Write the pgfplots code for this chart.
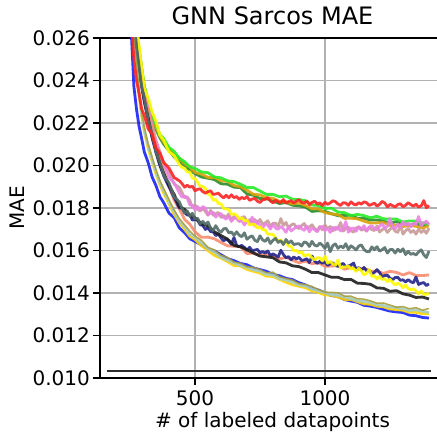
\documentclass[border=0pt]{standalone}
\usepackage{pgfplots}
\pgfplotsset{compat=1.18}
\usepackage{pgfplotstable}
\usepackage{fontspec}
\setmainfont{DejaVu Sans}
\definecolor{cB}{RGB}{25,35,245}
\definecolor{cLB}{RGB}{165,205,195}
\definecolor{cOL}{RGB}{170,160,60}
\definecolor{cGD}{RGB}{255,210,0}
\definecolor{cSG}{RGB}{85,110,105}
\definecolor{cBK}{RGB}{30,30,30}
\definecolor{cNV}{RGB}{35,35,140}
\definecolor{cSM}{RGB}{250,140,110}
\definecolor{cPK}{RGB}{235,130,230}
\definecolor{cTN}{RGB}{200,155,150}
\definecolor{cRD}{RGB}{255,35,35}
\definecolor{cGR}{RGB}{40,235,40}
\definecolor{cOR}{RGB}{220,160,10}
\definecolor{cFG}{RGB}{40,140,40}
\definecolor{cYL}{RGB}{255,250,0}
% smoother series
\pgfplotstableread{
x B LB OL GD BK SM GR OR FG
245 .02900 .03000 .03010 .02990 .03000 .03000 .03000 .02990 .02980
255 .02625 .02800 .02810 .02790 .02850 .02880 .02900 .02890 .02880
265 .02372 .02620 .02630 .02610 .02680 .02720 .02780 .02770 .02760
275 .02265 .02470 .02480 .02460 .02560 .02600 .02650 .02640 .02630
285 .02183 .02340 .02350 .02330 .02455 .02500 .02550 .02540 .02530
295 .02126 .02245 .02250 .02230 .02384 .02420 .02462 .02450 .02440
305 .02064 .02168 .02180 .02160 .02306 .02350 .02376 .02370 .02360
320 .02013 .02093 .02100 .02080 .02224 .02248 .02305 .02290 .02280
335 .01946 .02028 .02040 .02020 .02137 .02172 .02236 .02230 .02220
350 .01905 .01972 .01980 .01960 .02073 .02098 .02196 .02180 .02170
365 .01853 .01918 .01930 .01910 .02006 .02033 .02145 .02140 .02130
380 .01824 .01882 .01890 .01870 .01963 .01968 .02126 .02110 .02100
400 .01776 .01828 .01840 .01820 .01906 .01904 .02085 .02080 .02070
420 .01754 .01783 .01790 .01770 .01864 .01836 .02066 .02050 .02040
440 .01706 .01738 .01750 .01730 .01806 .01795 .02034 .02033 .02020
460 .01684 .01712 .01720 .01700 .01794 .01746 .02018 .02008 .02000
480 .01655 .01678 .01692 .01668 .01766 .01724 .01994 .01993 .01978
500 .01643 .01662 .01668 .01652 .01754 .01688 .01986 .01967 .01962
525 .01626 .01637 .01648 .01623 .01726 .01662 .01970 .01960 .01946
550 .01608 .01609 .01615 .01600 .01716 .01663 .01966 .01944 .01940
575 .01598 .01593 .01602 .01577 .01688 .01655 .01946 .01944 .01934
600 .01580 .01568 .01577 .01564 .01670 .01638 .01942 .01928 .01914
625 .01562 .01555 .01568 .01548 .01654 .01622 .01928 .01926 .01912
650 .01552 .01542 .01545 .01530 .01624 .01620 .01924 .01906 .01898
675 .01539 .01529 .01540 .01527 .01617 .01618 .01912 .01900 .01896
700 .01533 .01521 .01523 .01511 .01604 .01585 .01896 .01884 .01866
725 .01518 .01509 .01521 .01502 .01588 .01588 .01896 .01864 .01860
750 .01510 .01503 .01510 .01494 .01574 .01578 .01880 .01862 .01844
775 .01502 .01488 .01495 .01479 .01570 .01580 .01864 .01848 .01844
800 .01487 .01485 .01498 .01478 .01566 .01573 .01864 .01846 .01832
825 .01481 .01467 .01476 .01464 .01546 .01560 .01853 .01831 .01821
850 .01469 .01462 .01468 .01451 .01542 .01568 .01856 .01830 .01826
875 .01463 .01451 .01461 .01439 .01528 .01555 .01841 .01819 .01813
900 .01448 .01438 .01444 .01432 .01524 .01542 .01840 .01824 .01810
925 .01438 .01433 .01440 .01425 .01512 .01550 .01834 .01812 .01804
950 .01422 .01419 .01431 .01410 .01496 .01538 .01814 .01796 .01784
975 .01414 .01410 .01416 .01403 .01496 .01543 .01812 .01796 .01787
1000 .01401 .01402 .01404 .01391 .01485 .01525 .01798 .01778 .01784
1025 .01388 .01392 .01403 .01389 .01474 .01527 .01799 .01772 .01773
1050 .01383 .01389 .01401 .01381 .01474 .01529 .01781 .01769 .01764
1075 .01369 .01382 .01385 .01370 .01463 .01512 .01778 .01751 .01765
1100 .01362 .01374 .01385 .01370 .01464 .01520 .01764 .01752 .01766
1125 .01356 .01364 .01373 .01359 .01446 .01510 .01770 .01749 .01751
1150 .01342 .01360 .01371 .01349 .01445 .01518 .01764 .01738 .01752
1175 .01338 .01356 .01363 .01347 .01441 .01502 .01754 .01729 .01743
1200 .01332 .01345 .01352 .01338 .01424 .01503 .01761 .01730 .01744
1225 .01323 .01341 .01353 .01335 .01422 .01492 .01749 .01732 .01738
1250 .01315 .01334 .01343 .01325 .01408 .01502 .01748 .01718 .01729
1275 .01311 .01332 .01333 .01322 .01411 .01497 .01748 .01720 .01736
1300 .01308 .01326 .01336 .01319 .01396 .01485 .01734 .01713 .01727
1325 .01296 .01318 .01326 .01309 .01390 .01496 .01739 .01717 .01719
1350 .01293 .01321 .01331 .01309 .01379 .01482 .01739 .01714 .01726
1375 .01285 .01314 .01319 .01303 .01381 .01482 .01730 .01706 .01718
1400 .01282 .01308 .01327 .01303 .01372 .01485 .01724 .01716 .01726
}\smoothtable
% noisier series
\pgfplotstableread{
x RD PK TN SG NV YL
245 .02900 .03050 .03060 .03050 .02990 .03200
255 .02680 .02900 .02910 .02900 .02840 .03000
265 .02500 .02750 .02760 .02700 .02670 .02850
275 .02400 .02620 .02630 .02560 .02550 .02680
285 .02338 .02527 .02530 .02466 .02450 .02560
295 .02265 .02426 .02444 .02372 .02370 .02458
305 .02236 .02358 .02356 .02318 .02300 .02362
320 .02172 .02265 .02270 .02212 .02210 .02318
335 .02148 .02173 .02195 .02148 .02130 .02252
350 .02082 .02118 .02114 .02064 .02060 .02208
365 .02058 .02044 .02066 .02016 .02000 .02143
380 .02014 .02008 .02004 .01953 .01950 .02118
400 .01988 .01943 .01966 .01918 .01900 .02064
420 .01943 .01918 .01912 .01852 .01850 .02046
440 .01928 .01872 .01897 .01828 .01800 .02004
450 .01915 .01851 .01873 .01800 .01799 .01991
460 .01898 .01856 .01848 .01775 .01780 .01987
470 .01907 .01847 .01853 .01786 .01767 .01969
480 .01898 .01815 .01835 .01761 .01768 .01970
490 .01903 .01813 .01804 .01775 .01743 .01940
500 .01881 .01791 .01814 .01748 .01746 .01939
510 .01888 .01807 .01793 .01752 .01743 .01921
520 .01890 .01790 .01786 .01726 .01721 .01902
530 .01877 .01807 .01797 .01737 .01718 .01901
540 .01870 .01799 .01784 .01723 .01699 .01892
550 .01877 .01768 .01766 .01734 .01707 .01866
560 .01881 .01776 .01789 .01705 .01689 .01861
570 .01864 .01780 .01766 .01694 .01688 .01836
580 .01866 .01757 .01773 .01717 .01670 .01841
590 .01870 .01769 .01779 .01696 .01678 .01821
600 .01857 .01774 .01756 .01686 .01659 .01820
610 .01848 .01755 .01765 .01702 .01646 .01798
620 .01860 .01748 .01755 .01704 .01653 .01795
630 .01848 .01763 .01773 .01683 .01645 .01794
640 .01862 .01737 .01744 .01687 .01629 .01770
650 .01849 .01752 .01760 .01671 .01661 .01773
660 .01854 .01758 .01750 .01688 .01624 .01766
670 .01840 .01736 .01739 .01672 .01618 .01749
680 .01850 .01741 .01756 .01665 .01624 .01754
690 .01844 .01720 .01759 .01683 .01614 .01740
700 .01854 .01741 .01736 .01653 .01601 .01743
710 .01836 .01723 .01745 .01663 .01615 .01720
720 .01842 .01757 .01723 .01669 .01599 .01724
730 .01845 .01715 .01746 .01648 .01602 .01722
740 .01832 .01737 .01732 .01642 .01605 .01705
750 .01826 .01718 .01746 .01669 .01589 .01712
760 .01838 .01706 .01724 .01650 .01595 .01698
770 .01841 .01724 .01730 .01643 .01588 .01698
780 .01849 .01719 .01740 .01659 .01598 .01677
790 .01833 .01701 .01713 .01633 .01576 .01676
800 .01824 .01724 .01728 .01648 .01584 .01676
810 .01837 .01705 .01729 .01657 .01577 .01659
820 .01829 .01700 .01712 .01638 .01569 .01644
830 .01826 .01713 .01750 .01646 .01601 .01650
840 .01840 .01702 .01718 .01628 .01581 .01632
850 .01822 .01686 .01732 .01652 .01566 .01640
860 .01830 .01712 .01705 .01635 .01571 .01621
870 .01835 .01692 .01720 .01645 .01556 .01619
880 .01823 .01702 .01726 .01628 .01570 .01598
890 .01833 .01711 .01710 .01631 .01560 .01601
900 .01839 .01716 .01703 .01632 .01568 .01588
910 .01827 .01703 .01717 .01621 .01553 .01595
920 .01823 .01695 .01727 .01640 .01556 .01575
930 .01833 .01715 .01704 .01636 .01561 .01579
940 .01816 .01688 .01711 .01619 .01543 .01580
950 .01826 .01706 .01721 .01643 .01574 .01565
960 .01832 .01698 .01704 .01625 .01551 .01557
970 .01819 .01689 .01693 .01621 .01539 .01566
980 .01824 .01708 .01713 .01635 .01549 .01566
990 .01812 .01714 .01697 .01625 .01540 .01551
1000 .01827 .01694 .01720 .01610 .01548 .01572
1010 .01817 .01705 .01703 .01635 .01530 .01540
1020 .01824 .01685 .01713 .01594 .01538 .01549
1030 .01834 .01709 .01692 .01623 .01542 .01537
1040 .01830 .01697 .01709 .01631 .01530 .01530
1050 .01819 .01712 .01700 .01610 .01525 .01555
1060 .01812 .01692 .01732 .01621 .01533 .01518
1070 .01825 .01700 .01691 .01613 .01539 .01522
1080 .01823 .01736 .01704 .01632 .01523 .01523
1090 .01813 .01686 .01710 .01605 .01527 .01527
1100 .01829 .01703 .01693 .01622 .01532 .01513
1110 .01818 .01706 .01686 .01613 .01541 .01516
1120 .01815 .01691 .01706 .01603 .01509 .01502
1130 .01825 .01711 .01712 .01621 .01520 .01516
1140 .01818 .01701 .01695 .01626 .01507 .01504
1150 .01829 .01717 .01703 .01605 .01520 .01485
1160 .01825 .01692 .01691 .01595 .01505 .01492
1170 .01812 .01709 .01711 .01594 .01507 .01510
1180 .01817 .01717 .01698 .01617 .01490 .01479
1190 .01823 .01703 .01694 .01604 .01497 .01481
1200 .01809 .01698 .01715 .01618 .01510 .01466
1210 .01817 .01714 .01687 .01597 .01496 .01478
1220 .01831 .01726 .01698 .01604 .01477 .01464
1230 .01824 .01705 .01705 .01614 .01482 .01467
1240 .01805 .01714 .01685 .01588 .01484 .01453
1250 .01817 .01751 .01700 .01604 .01470 .01465
1260 .01811 .01711 .01709 .01605 .01463 .01449
1270 .01805 .01702 .01691 .01588 .01473 .01438
1280 .01816 .01724 .01685 .01606 .01474 .01446
1290 .01820 .01710 .01721 .01594 .01460 .01440
1300 .01806 .01735 .01677 .01608 .01462 .01425
1310 .01813 .01719 .01693 .01581 .01452 .01437
1320 .01825 .01730 .01703 .01596 .01463 .01421
1330 .01816 .01711 .01685 .01582 .01453 .01415
1340 .01808 .01729 .01694 .01586 .01448 .01420
1350 .01818 .01722 .01677 .01579 .01475 .01410
1360 .01805 .01760 .01701 .01593 .01440 .01397
1370 .01810 .01716 .01685 .01603 .01446 .01410
1380 .01835 .01730 .01696 .01580 .01449 .01393
1390 .01801 .01738 .01681 .01567 .01435 .01395
1400 .01812 .01722 .01705 .01597 .01443 .01397
}\noisytable

\begin{document}
\begin{tikzpicture}
\begin{axis}[
  name=ax,
  scale only axis,
  width=345pt, height=340pt,
  xmin=134.6, xmax=1461.6,
  ymin=0.010, ymax=0.026,
  xtick={500,1000},
  xticklabels={500,1000},
  ytick={0.010,0.012,0.014,0.016,0.018,0.020,0.022,0.024,0.026},
  yticklabels={0.010,0.012,0.014,0.016,0.018,0.020,0.022,0.024,0.026},
  scaled y ticks=false,
  grid=major,
  major grid style={color=black!30, line width=1.2pt},
  tick align=outside,
  xtick pos=left, ytick pos=left,
  major tick length=7pt,
  every tick/.style={black, line width=1.2pt},
  axis line style={black, line width=1.3pt},
  tick label style={font=\fontsize{20}{24}\selectfont},
  yticklabel style={inner sep=0pt, anchor=east, xshift=-3pt},
  xticklabel style={inner sep=0pt, anchor=north, yshift=-5pt},
  title={GNN Sarcos MAE},
  title style={font=\fontsize{24}{28}\selectfont, at={(axis description cs:0.5,1.022)}, anchor=base, inner sep=0pt},
  xlabel={\# of labeled datapoints},
  xlabel style={font=\fontsize{20}{24}\selectfont, at={(axis description cs:0.5,-0.147)}, anchor=base, inner sep=0pt},
  ylabel={MAE},
  ylabel style={font=\fontsize{20}{24}\selectfont, at={(axis description cs:-0.2174,0.5)}, rotate=0, anchor=base, inner sep=0pt},
  every axis plot/.append style={line width=2.8pt, line join=round, opacity=0.9},
]
\addplot[color=cFG] table[x=x,y=FG] {\smoothtable};
\addplot[color=cOR] table[x=x,y=OR] {\smoothtable};
\addplot[color=cGR] table[x=x,y=GR] {\smoothtable};
\addplot[color=cTN] table[x=x,y=TN] {\noisytable};
\addplot[color=cPK] table[x=x,y=PK] {\noisytable};
\addplot[color=cSM] table[x=x,y=SM] {\smoothtable};
\addplot[color=cNV] table[x=x,y=NV] {\noisytable};
\addplot[color=cBK] table[x=x,y=BK] {\smoothtable};
\addplot[color=cYL] table[x=x,y=YL] {\noisytable};
\addplot[color=cB] table[x=x,y=B] {\smoothtable};
\addplot[color=cGD] table[x=x,y=GD] {\smoothtable};
\addplot[color=cLB] table[x=x,y=LB] {\smoothtable};
\addplot[color=cOL, line width=1.5pt] table[x=x,y=OL] {\smoothtable};
\addplot[color=cSG] table[x=x,y=SG] {\noisytable};
\addplot[color=cRD] table[x=x,y=RD] {\noisytable};
\addplot[color={rgb,255:red,45;green,45;blue,45}, line width=2.5pt, opacity=1] coordinates {(162,0.01033) (1408,0.01033)};
\end{axis}
\pgfresetboundingbox
\path[use as bounding box] (ax.south west) ++(-100pt,-56pt) rectangle ++(437pt,434pt);
\end{tikzpicture}
\end{document}
